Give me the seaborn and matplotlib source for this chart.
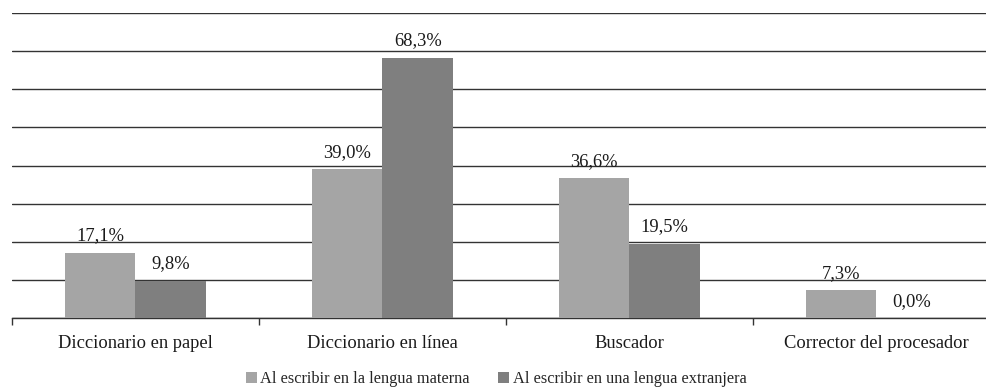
import matplotlib
matplotlib.use("Agg")
import matplotlib.pyplot as plt
import seaborn as sns
import pandas as pd
import numpy as np

categorias = ["Diccionario en papel", "Diccionario en línea", "Buscador",
              "Corrector del procesador"]
lengua_materna = [17.1, 39.0, 36.6, 7.3]
lengua_extranjera = [9.8, 68.3, 19.5, 0.0]
series = ["Al escribir en la lengua materna", "Al escribir en una lengua extranjera"]
colores = ["#A5A5A5", "#7F7F7F"]

df = pd.DataFrame({
    "categoria": categorias * 2,
    "valor": lengua_materna + lengua_extranjera,
    "serie": [series[0]] * len(categorias) + [series[1]] * len(categorias),
})

sns.set_theme(style="white")
plt.rcParams["font.family"] = ["Liberation Serif", "DejaVu Serif"]
fs = 13.3
fs_leg = 11.8

fig = plt.figure(figsize=(9.87, 3.9), dpi=100)
ax = fig.add_axes([12 / 987, 72 / 390, 988 / 987, 305 / 390])

sns.barplot(data=df, x="categoria", y="valor", hue="serie", palette=colores,
            width=0.57, saturation=1, linewidth=0, ax=ax, legend=True, zorder=3)

ax.set_ylim(0, 80)
ax.set_xlim(-0.5, len(categorias) - 0.5)
ax.set_yticks(np.arange(0, 81, 10))
ax.yaxis.grid(True, color="#333333", linewidth=1.0, zorder=0)
ax.set_yticklabels([])
ax.tick_params(axis="y", length=0)
ax.set_xlabel("")
ax.set_ylabel("")

for s in ["left", "right", "top"]:
    ax.spines[s].set_visible(False)
ax.spines["bottom"].set_color("#333333")
ax.spines["bottom"].set_linewidth(1.0)

# category labels centred under each group, tick marks on the boundaries
ax.set_xticks(np.arange(len(categorias)))
ax.set_xticklabels(categorias, fontsize=fs, color="#1a1a1a")
ax.tick_params(axis="x", which="major", bottom=False, length=0, pad=12)
ax.set_xticks(np.arange(len(categorias) + 1) - 0.5, minor=True)
ax.tick_params(axis="x", which="minor", bottom=True, length=5, width=1,
               color="#333333", direction="out")

for cont in ax.containers:
    labels = [f"{v:.1f}".replace(".", ",") + "%" for v in cont.datavalues]
    ax.bar_label(cont, labels=labels, padding=6, fontsize=fs, color="#1a1a1a")

handles, labs = ax.get_legend_handles_labels()
ax.legend_.remove()
fig.legend(handles, labs, loc="center", bbox_to_anchor=(496 / 987, 1 - 379 / 390),
           ncol=2, frameon=False, fontsize=fs_leg, handlelength=0.7,
           handleheight=0.7, handletextpad=0.2, columnspacing=1.7)

fig.savefig("out.png", dpi=100)
